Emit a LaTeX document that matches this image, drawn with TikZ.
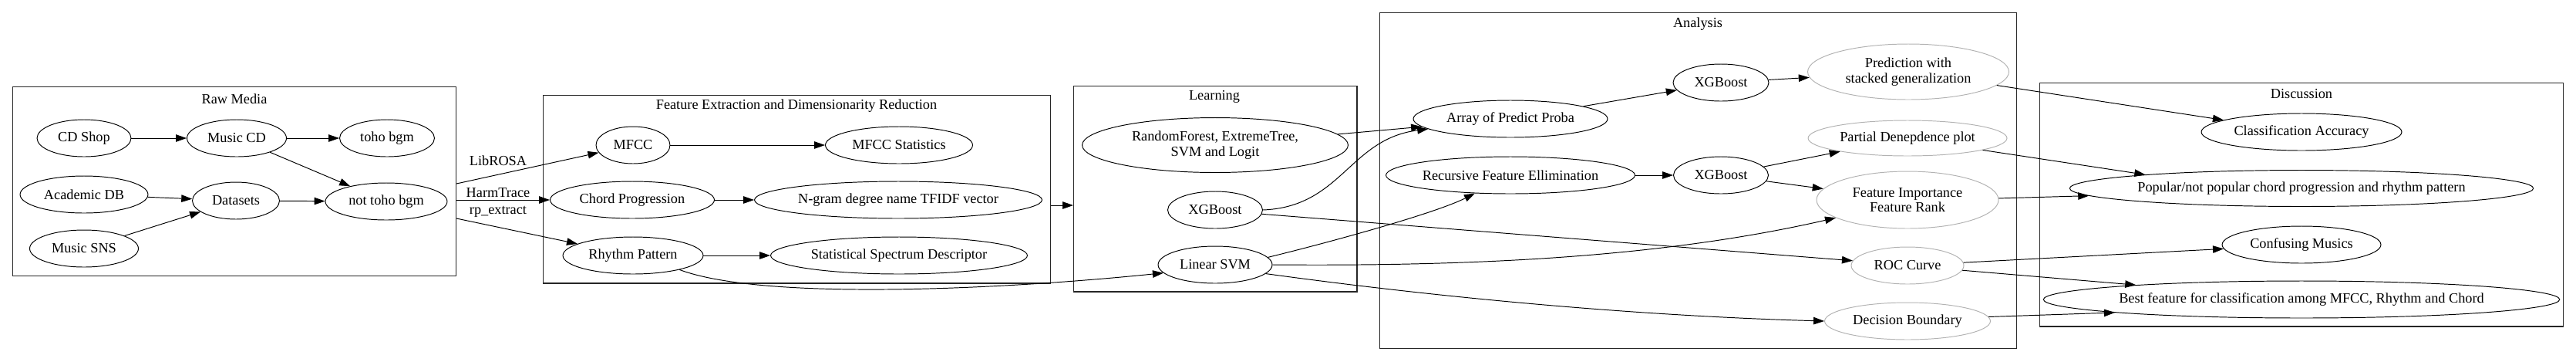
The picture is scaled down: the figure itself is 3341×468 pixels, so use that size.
\documentclass[tikz,border=0pt]{standalone}
\usepackage{fontspec}
\setmainfont{Liberation Serif}
\usetikzlibrary{shapes.geometric,arrows.meta}
\begin{document}
\begin{tikzpicture}[x=0.02cm, y=-0.02cm,
  every node/.style={font=\fontsize{10.4}{11.1}\selectfont},
  oval/.style={ellipse, draw, line width=0.55pt, inner sep=0pt, minimum height=0.96cm, align=center},
  faint/.style={oval, draw=black!30},
  cluster/.style={draw=black!85, line width=0.6pt, inner sep=0pt},
  flow/.style={-{Triangle[length=2.8mm,width=1.9mm]}, line width=0.55pt}]
\useasboundingbox (0,0) rectangle (3341,468);

\node[cluster, minimum width=11.52cm, minimum height=4.9cm] (rawbox) at (304,235) {};
\node[cluster, minimum width=13.18cm, minimum height=4.88cm] (featbox) at (1033.5,245) {};
\node[cluster, minimum width=7.36cm, minimum height=5.34cm] (learnbox) at (1576,244.5) {};
\node[cluster, minimum width=16.54cm, minimum height=8.72cm] (anabox) at (2202.5,234) {};
\node[cluster, minimum width=13.6cm, minimum height=6.32cm] (discbox) at (2985,265) {};

\node (rawtitle) at (304,128) {Raw Media};
\node (feattitle) at (1033,137) {Feature Extraction and Dimensionarity Reduction};
\node (learntitle) at (1575,125) {Learning};
\node (anatitle) at (2202,31) {Analysis};
\node (disctitle) at (2985,122) {Discussion};

\node[oval, minimum width=2.44cm] (cdshop) at (109,179) {CD Shop};
\node[oval, minimum width=2.58cm] (musiccd) at (307,179) {Music CD};
\node[oval, minimum width=2.46cm] (toho) at (502,179) {toho bgm};
\node[oval, minimum width=3.32cm] (academic) at (109,252) {Academic DB};
\node[oval, minimum width=2.26cm] (datasets) at (306,260) {Datasets};
\node[oval, minimum width=3.16cm] (nottoho) at (501,261) {not toho bgm};
\node[oval, minimum width=2.82cm] (musicsns) at (109,322) {Music SNS};

\node[oval, minimum width=1.92cm] (mfcc) at (821,188) {MFCC};
\node[oval, minimum width=3.82cm] (mfccstat) at (1166,188) {MFCC Statistics};
\node[oval, minimum width=4.26cm] (chord) at (820,259) {Chord Progression};
\node[oval, minimum width=7.46cm] (ngram) at (1165,259) {N-gram degree name TFIDF vector};
\node[oval, minimum width=3.64cm] (rhythm) at (821,331) {Rhythm Pattern};
\node[oval, minimum width=6.66cm] (ssd) at (1166,331) {Statistical Spectrum Descriptor};

\node[oval, minimum width=6.9cm, minimum height=1.42cm] (forest) at (1576,188) {RandomForest, ExtremeTree,\\SVM and Logit};
\node[oval, minimum width=2.46cm] (xgbl) at (1576,272) {XGBoost};
\node[oval, minimum width=2.96cm] (linsvm) at (1576,343) {Linear SVM};

\node[oval, minimum width=5.04cm] (proba) at (1959,154) {Array of Predict Proba};
\node[oval, minimum width=2.48cm] (xgba) at (2232,107) {XGBoost};
\node[faint, minimum width=5.22cm, minimum height=1.44cm] (stacked) at (2475,93) {Prediction with\\stacked generalization};
\node[oval, minimum width=6.44cm] (rfe) at (1959,227) {Recursive Feature Ellimination};
\node[oval, minimum width=2.46cm] (xgbb) at (2232,227) {XGBoost};
\node[faint, minimum width=5.16cm, minimum height=0.92cm] (partial) at (2474,179) {Partial Denepdence plot};
\node[faint, minimum width=4.72cm, minimum height=1.48cm] (importance) at (2474,259) {Feature Importance\\Feature Rank};
\node[faint, minimum width=2.92cm] (roc) at (2474,344) {ROC Curve};
\node[faint, minimum width=4.3cm] (boundary) at (2474,416) {Decision Boundary};

\node[oval, minimum width=5.2cm] (accuracy) at (2985,171) {Classification Accuracy};
\node[oval, minimum width=12cm, minimum height=0.94cm] (popular) at (2985,244) {Popular/not popular chord progression and rhythm pattern};
\node[oval, minimum width=4.12cm] (confusing) at (2985,317) {Confusing Musics};
\node[oval, minimum width=13.16cm] (bestfeat) at (2985,388) {Best feature for classification among MFCC, Rhythm and Chord};

\coordinate (libout) at (592,238);
\coordinate (harmout) at (592,259);
\coordinate (rpout) at (592,283);
\coordinate (featout) at (1363,266);
\coordinate (learnin) at (1392,266);
\node (librosa) at (646,208) {LibROSA};
\node (harmtrace) at (646,250) {HarmTrace};
\node (rpextract) at (646,274) {rp\_extract};

\draw[flow] (cdshop) -- (musiccd);
\draw[flow] (musiccd) -- (toho);
\draw[flow] (musiccd) -- (nottoho);
\draw[flow] (academic) -- (datasets);
\draw[flow] (musicsns) -- (datasets);
\draw[flow] (datasets) -- (nottoho);

\draw[flow] (libout) -- (mfcc);
\draw[flow] (harmout) -- (chord);
\draw[flow] (rpout) -- (rhythm);
\draw[flow] (mfcc) -- (mfccstat);
\draw[flow] (chord) -- (ngram);
\draw[flow] (rhythm) -- (ssd);
\draw[flow] (featout) -- (learnin);
\draw[flow] (rhythm.-17) .. controls (990,390) and (1300,375) .. (linsvm.189);

\draw[flow] (forest) -- (proba);
\draw[flow] (xgbl.east) .. controls (1740,268) and (1750,180) .. (proba.187);
\draw[flow] (linsvm.8) .. controls (1720,315) and (1860,277) .. (rfe.207);
\draw[flow] (linsvm.east) .. controls (1900,345) and (2150,335) .. (importance.194);
\draw[flow] (xgbl.-5) -- (roc.175);
\draw[flow] (linsvm.-10) .. controls (1900,390) and (2150,410) .. (boundary.west);

\draw[flow] (proba) -- (xgba);
\draw[flow] (xgba) -- (stacked);
\draw[flow] (rfe) -- (xgbb);
\draw[flow] (xgbb) -- (partial);
\draw[flow] (xgbb) -- (importance);

\draw[flow] (stacked) -- (accuracy);
\draw[flow] (partial.-9) -- (popular.175);
\draw[flow] (importance.1) -- (popular.182);
\draw[flow] (roc) -- (confusing);
\draw[flow] (roc.-5) -- (bestfeat.175);
\draw[flow] (boundary.3) -- (bestfeat.184);
\end{tikzpicture}
\end{document}
